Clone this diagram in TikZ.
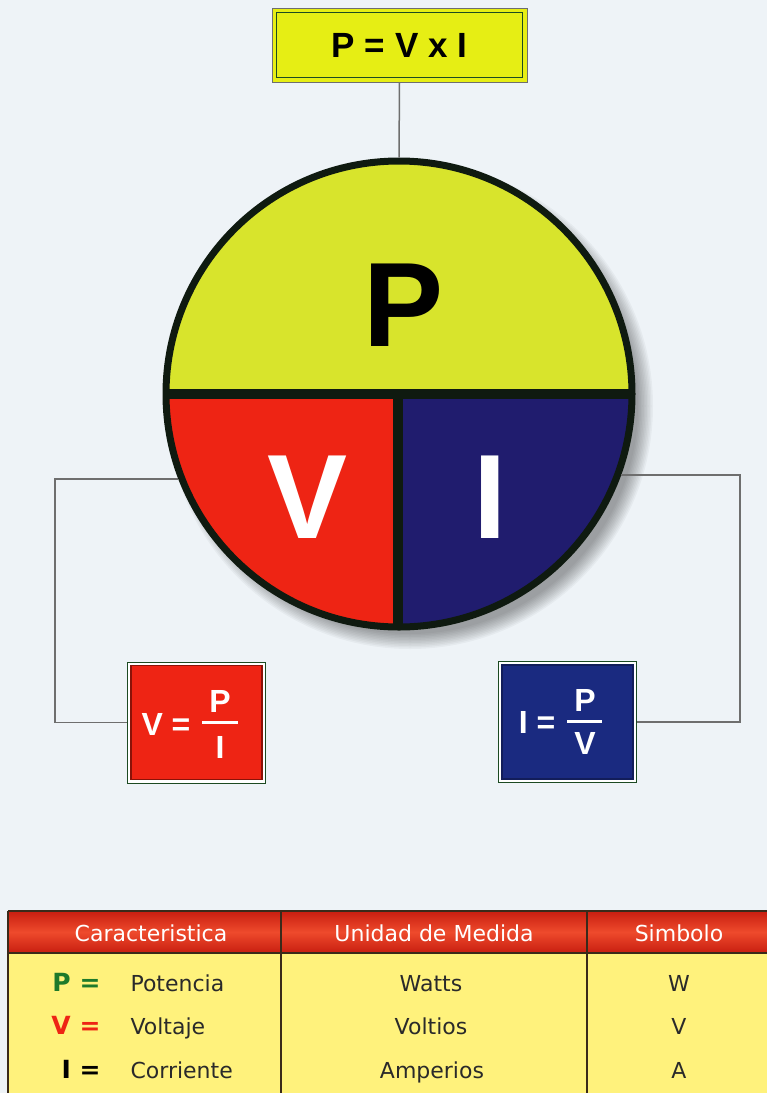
\documentclass[tikz,border=0pt]{standalone}
\usepackage{fontspec}
\setmainfont{DejaVu Sans}
\newfontfamily\formfont{Liberation Sans}
\definecolor{paper}{HTML}{EEF3F7}
\definecolor{pyellow}{HTML}{D8E42C}
\definecolor{vred}{HTML}{EE2414}
\definecolor{iblue}{HTML}{201C6E}
\definecolor{rim}{HTML}{0F1A10}
\definecolor{wire}{HTML}{6E6E6E}
\definecolor{boxyellow}{HTML}{E6EE14}
\definecolor{boxgreen}{HTML}{1C4A22}
\definecolor{darkred}{HTML}{8A1208}
\definecolor{boxblue}{HTML}{1A2A80}
\definecolor{tabyellow}{HTML}{FFF27C}
\definecolor{tabred}{HTML}{C81E10}
\definecolor{tablight}{HTML}{EE4A2C}
\definecolor{tabline}{HTML}{3A2A1A}
\definecolor{pgreen}{HTML}{1E7A2A}
\definecolor{ink}{HTML}{2A2A2A}
\begin{document}
\begin{tikzpicture}[x=1pt,y=-1pt,
  wire/.style={draw=wire,line width=1.5pt},
  letter/.style={font=\formfont\bfseries\fontsize{120}{120}\selectfont,inner sep=0pt},
  formula/.style={font=\formfont\bfseries\fontsize{32}{32}\selectfont,inner sep=0pt,text=white},
  formbox/.style={draw=boxgreen,line width=1pt,fill=white,inner sep=0pt,minimum width=138pt,minimum height=121pt},
  head/.style={font=\fontsize{22}{22}\selectfont,text=white},
  cell/.style={font=\fontsize{22}{22}\selectfont,text=ink,anchor=base},
  sign/.style={font=\bfseries\fontsize{25}{25}\selectfont,anchor=base east}]
\fill[paper] (0,0) rectangle (767,1093);
\useasboundingbox (0,0) rectangle (767,1093);

% formula on top
\node[draw=wire,line width=1pt,fill=boxyellow,minimum width=255pt,minimum height=74pt,
  font=\formfont\bfseries\fontsize{35}{35}\selectfont] (pvi) at (399.5,45) {P = V x I};
\draw[boxgreen,line width=1.5pt] ([shift={(5,5)}]pvi.north west) rectangle ([shift={(-5,-5)}]pvi.south east);

% the circle
\coordinate (c) at (399,394);
\foreach \r in {228,229.5,...,244}
  \fill[black,opacity=0.035] (410,406) circle (\r pt);
\begin{scope}
  \clip (c) circle (233pt);
  \fill[pyellow] (150,150) rectangle (650,394);
  \fill[vred] (150,394) rectangle (398,640);
  \fill[iblue] (398,394) rectangle (650,640);
  \draw[rim,line width=10pt] (150,394) -- (650,394);
  \draw[rim,line width=10pt] (398,394) -- (398,640);
\end{scope}
\node[circle,draw=rim,line width=7pt,minimum size=466pt,inner sep=0pt] (pie) at (c) {};
\draw[wire] (pvi.south) -- (pie.north);
\node[letter] (p) at (404,305) {P};
\node[letter,text=white] (v) at (308,497) {V};
\node[letter,text=white] (i) at (490,497) {I};

% V = P / I
\node[formbox] (vbox) at (196.5,722.5) {};
\draw[darkred,line width=1.5pt,fill=vred] ([shift={(4,4)}]vbox.north west) rectangle ([shift={(-4,-4)}]vbox.south east);
\node[formula] (veq) at (166,724) {V =};
\node[formula] (vtop) at (220,701) {P};
\node[formula] (vbot) at (220,747) {I};
\draw[white,line width=3pt] (202,722) -- (238,722);

% I = P / V
\node[formbox] (ibox) at (567.5,722) {};
\draw[boxblue!70!black,line width=1.5pt,fill=boxblue] ([shift={(4,4)}]ibox.north west) rectangle ([shift={(-4,-4)}]ibox.south east);
\node[formula] (ieq) at (537,722) {I =};
\node[formula] (itop) at (585,700) {P};
\node[formula] (ibot) at (585,743) {V};
\draw[white,line width=3pt] (567,721) -- (602,721);

% connectors
\coordinate (lbend) at (55,0);
\coordinate (rbend) at (740,0);
\draw[wire] (pie.201) -- (pie.201 -| lbend) |- (vbox.west);
\draw[wire] (pie.340) -- (pie.340 -| rbend) |- (ibox.east);

% table
\fill[tabyellow] (8,953) rectangle (767,1093);
\shade[top color=tabred,bottom color=tabred,middle color=tablight] (8,911) rectangle (767,953);
\draw[tabline,line width=1.2pt] (8,911) -- (767,911) (8,953) -- (767,953);
\draw[tabline,line width=1.2pt] (8,911) -- (8,1093) (281,911) -- (281,1093) (587,911) -- (587,1093);
\node[head] (h1) at (151,933) {Caracteristica};
\node[head] (h2) at (434,933) {Unidad de Medida};
\node[head] (h3) at (679,933) {Simbolo};

\node[sign,text=pgreen] (sp) at (104,991) {P =};
\node[sign,text=vred] (sv) at (104,1034) {V =};
\node[sign,text=black] (si) at (104,1078) {I =};
\node[cell,anchor=base west] (np) at (127,991) {Potencia};
\node[cell,anchor=base west] (nv) at (127,1034) {Voltaje};
\node[cell,anchor=base west] (ni) at (127,1078) {Corriente};
\node[cell] (up) at (431,991) {Watts};
\node[cell] (uv) at (431,1034) {Voltios};
\node[cell] (ui) at (432,1078) {Amperios};
\node[cell] (yp) at (679,991) {W};
\node[cell] (yv) at (679,1034) {V};
\node[cell] (yi) at (679,1078) {A};
\end{tikzpicture}
\end{document}
